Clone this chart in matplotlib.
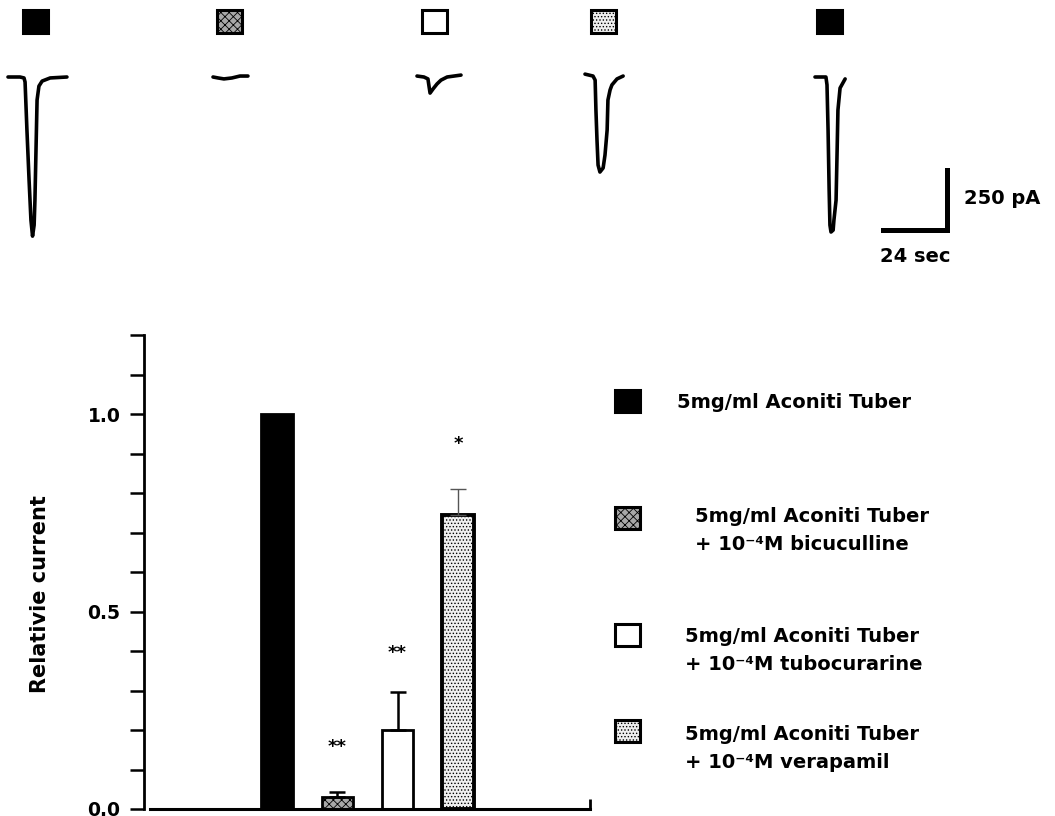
import matplotlib
matplotlib.use("Agg")
import matplotlib.pyplot as plt
from matplotlib.patches import Rectangle

plt.rcParams['font.family'] = ['DejaVu Sans']
plt.rcParams['font.weight'] = 'bold'
plt.rcParams['hatch.linewidth'] = 0.6

W, H = 1055, 816

# normalised peak current (relative to Aconiti Tuber alone)
conditions = ['Aconiti Tuber', 'bicuculline', 'tubocurarine', 'verapamil']
rel_current = [1.0, 0.03, 0.20, 0.745]
rel_sem = [0.0, 0.012, 0.095, 0.065]
signif = ['', '**', '**', '*']
signif_y = [0.0, 0.157, 0.395, 0.924]

legend_labels = [
    ['5mg/ml Aconiti Tuber'],
    ['5mg/ml Aconiti Tuber', '+ 10\u207b\u2074M bicuculline'],
    ['5mg/ml Aconiti Tuber', '+ 10\u207b\u2074M tubocurarine'],
    ['5mg/ml Aconiti Tuber', '+ 10\u207b\u2074M verapamil'],
]

# example current traces: time from sweep start (s), current (pA)
trace_t = [
    [0, 4.5, 6.0, 6.4, 7.1, 7.9, 8.6, 9.2, 9.8, 10.1, 10.5, 10.9, 11.6, 12.8, 15.8, 22.1],
    [0, 1.9, 4.1, 7.1, 10.1, 13.1],
    [0, 2.6, 4.1, 4.5, 4.9, 6.0, 7.5, 9.0, 11.3, 16.5],
    [0, 3.0, 3.8, 4.1, 4.5, 4.9, 5.6, 6.8, 7.5, 8.3, 8.6, 9.4, 10.1, 12.0, 14.3],
    [0, 4.1, 4.5, 4.9, 5.3, 5.6, 6.0, 6.8, 7.1, 7.9, 8.3, 8.6, 9.4, 11.3],
]
trace_i = [
    [0, 0, -4, -21, -221, -429, -596, -663, -617, -513, -304, -96, -38, -17, -4, 0],
    [0, -4, -8, -4, 4, 4],
    [4, 0, -8, -38, -67, -50, -29, -13, 0, 8],
    [12, 4, -13, -138, -263, -367, -396, -379, -325, -221, -96, -54, -33, -8, 4],
    [0, 0, -33, -221, -471, -617, -646, -638, -596, -513, -304, -138, -46, -8],
]
trace_cond = [0, 1, 2, 3, 0]
scale_pa = 250
scale_sec = 24

# fill styles for each condition (bars, squares)
styles = [
    dict(facecolor='black', edgecolor='black', hatch=None),
    dict(facecolor='#a8a8a8', edgecolor='black', hatch='xxxx'),
    dict(facecolor='white', edgecolor='black', hatch=None),
    dict(facecolor='#efefef', edgecolor='black', hatch='.....'),
]


def fig_box(x, y, w, h):
    # pixel box (top-left origin) -> figure fraction rectangle
    return [x / W, 1 - (y + h) / H, w / W, h / H]


def square(x, y, cond, w=25, h=23, lw=2.2):
    st = styles[cond]
    r = Rectangle((x / W, 1 - (y + h) / H), w / W, h / H, transform=fig.transFigure,
                  facecolor=st['facecolor'], edgecolor=st['edgecolor'],
                  hatch=st['hatch'], linewidth=lw)
    fig.add_artist(r)


fig = plt.figure(figsize=(W / 100, H / 100), dpi=100)

# ---- traces ----
sec_per_px = scale_sec / 64.0
pa_per_px = scale_pa / 60.0
base_px = 77
ax_tr = fig.add_axes(fig_box(0, 0, W, 290))
ax_tr.set_xlim(0, W * sec_per_px)
ax_tr.set_ylim(-(290 - base_px) * pa_per_px, base_px * pa_per_px)
ax_tr.axis('off')

onsets_px = [8, 213, 417, 585, 815]
squares_px = [23, 217, 422, 591, 817]
for k in range(len(trace_t)):
    t0 = onsets_px[k] * sec_per_px
    ax_tr.plot([t0 + t for t in trace_t[k]], trace_i[k], color='black', lw=2.6,
               solid_capstyle='round', solid_joinstyle='round')
    square(squares_px[k], 10, trace_cond[k])

# scale bar
sx = 947 * sec_per_px
sy = -(230 - base_px) * pa_per_px
ax_tr.plot([sx - scale_sec, sx, sx], [sy, sy, sy + scale_pa], color='black', lw=3.6,
           solid_joinstyle='miter')
ax_tr.text(sx + 6.5, sy + scale_pa / 2 + 5, '%d pA' % scale_pa, fontsize=14,
           fontweight='bold', ha='left', va='center')
ax_tr.text(sx - scale_sec / 2, sy - 110, '%d sec' % scale_sec, fontsize=14,
           fontweight='bold', ha='center', va='center')

# ---- bar chart ----
ax = fig.add_axes(fig_box(144, 335, 446, 474))
xs = list(range(len(conditions)))
for i in xs:
    st = styles[i]
    ax.bar(i, rel_current[i], width=0.52, color=st['facecolor'], edgecolor=st['edgecolor'],
           hatch=st['hatch'], linewidth=2.0 if i != 3 else 2.8, zorder=2)
    if rel_sem[i] > 0:
        ax.errorbar(i, rel_current[i], yerr=[[0], [rel_sem[i]]], fmt='none',
                    ecolor='black' if i != 3 else '#555555', elinewidth=1.8 if i != 3 else 1.0,
                    capsize=6, capthick=1.8 if i != 3 else 1.0, zorder=3)
    if signif[i]:
        ax.text(i, signif_y[i], signif[i], ha='center', va='center', fontsize=13,
                fontweight='bold')

xmin = -(277 - 144) / 60.3
ax.set_xlim(xmin, xmin + 446 / 60.3)
ax.set_ylim(0, 1.2)
ax.set_xticks([xmin + 446 / 60.3])
ax.set_xticklabels([])
ax.tick_params(axis='x', direction='in', length=7, width=2)
ax.set_yticks([0, 0.5, 1.0])
ax.set_yticklabels(['0.0', '0.5', '1.0'])
ax.set_yticks([0.1 * k for k in range(13)], minor=True)
ax.tick_params(axis='y', which='both', direction='out', length=10, width=1.8,
               labelsize=13.5, pad=7)
for lab in ax.get_yticklabels():
    lab.set_fontweight('bold')
for side in ['top', 'right']:
    ax.spines[side].set_visible(False)
ax.spines['left'].set_linewidth(2.0)
ax.spines['bottom'].set_linewidth(2.2)
ax.spines['bottom'].set_bounds(xmin + 6 / 60.3, xmin + 446 / 60.3)
ax.patch.set_alpha(0)

fig.text(40 / W, 1 - 594 / H, 'Relativie current', rotation=90, ha='center', va='center',
         fontsize=15, fontweight='bold')

# ---- legend ----
legend_sq_y = [390, 507, 624, 720]
legend_txt_x = [677, 695, 685, 685]
legend_txt_y = [402, 517, 637, 735]
for k, lines in enumerate(legend_labels):
    square(615, legend_sq_y[k], k, w=25, h=22)
    for j, line in enumerate(lines):
        fig.text(legend_txt_x[k] / W, 1 - (legend_txt_y[k] + 28 * j) / H, line,
                 ha='left', va='center', fontsize=14, fontweight='bold')

fig.savefig('out.png', dpi=100)
